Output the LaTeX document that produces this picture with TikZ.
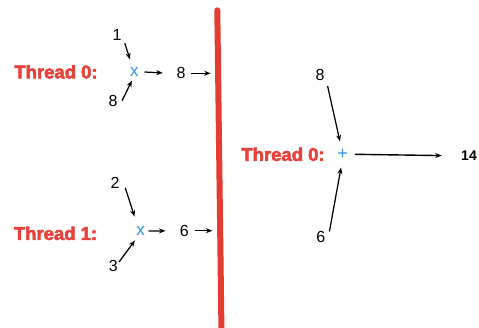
\documentclass[tikz,border=0pt]{standalone}
\usepackage{fontspec}
\setmainfont{Liberation Sans}
\usetikzlibrary{arrows.meta}
\definecolor{tred}{RGB}{232,65,58}
\definecolor{wallred}{RGB}{228,60,48}
\definecolor{opblue}{RGB}{47,144,240}
\newcommand\heavytext[1]{\special{pdf:literal direct 2 Tr 0.5 w}#1\special{pdf:literal direct 0 Tr}}
\tikzset{
  arr/.style={-{Stealth[length=6.5pt,width=5pt]}, line width=1.25pt, black},
  num/.style={circle, inner sep=0pt, minimum size=20pt, font=\fontsize{16}{16}\selectfont},
  op/.style={circle, inner sep=0pt, minimum size=20pt, text=opblue, font=\fontsize{17}{17}\selectfont},
  lbl/.style={inner sep=0pt, text=tred, font=\fontsize{18.5}{18.5}\selectfont\bfseries},
  wall/.style={wallred, line width=6pt, line cap=round},
}
\begin{document}
\begin{tikzpicture}[x=1pt,y=-1pt]
\useasboundingbox (0,0) rectangle (479,327);

% wall
\coordinate (wtop) at (217.3,10.3);
\coordinate (wbot) at (221.5,334);
\draw[wall] (wtop) -- (wbot);
\coordinate (w0) at (210.7,73.3);
\coordinate (w1) at (212.3,230.7);

% labels
\node[lbl] (t0) at (56,71.8) {\heavytext{Thread 0:}};
\node[lbl] (t1) at (55.5,233.3) {\heavytext{Thread 1:}};
\node[lbl] (t2) at (283,154.3) {\heavytext{Thread 0:}};

% thread 0
\node[num] (n1) at (117,35.3) {1};
\node[num] (n8a) at (113,101) {8};
\node[op] (x0) at (134.3,72) {x};
\node[num] (r8) at (181,73.3) {8};
\draw[arr, shorten <=1pt, shorten >=3.1pt] (n1.-43) -- (x0.109);
\draw[arr, shorten <=-2pt, shorten >=-1.3pt] (n8a.12) -- (x0.-107);
\draw[arr, shorten >=8pt] (x0.0) -- (r8.180);
\draw[arr] (r8.0) -- (w0);

% thread 1
\node[num] (n2) at (115,183.3) {2};
\node[num] (n3) at (113.3,266) {3};
\node[op] (x1) at (140.7,231) {x};
\node[num] (r6) at (184.3,230.7) {6};
\draw[arr, shorten <=1.5pt, shorten >=5.5pt] (n2.-17) -- (x1.116);
\draw[arr, shorten <=-3.4pt, shorten >=0.9pt] (n3.41) -- (x1.-121);
\draw[arr, shorten <=-2.4pt, shorten >=8.6pt] (x1.0) -- (r6.180);
\draw[arr] (r6.0) -- (w1);

% right side
\node[num] (m8) at (320,75) {8};
\node[num] (m6) at (320.7,236.7) {6};
\node[op, minimum size=24pt, font=\fontsize{18}{18}\selectfont] (plus) at (342.7,154.3) {+};
\node[inner sep=0pt, minimum size=20pt, circle, font=\fontsize{14}{14}\selectfont\bfseries] (r14) at (469,156) {14};
\draw[arr, shorten <=3.5pt, shorten >=1pt] (m8.-48) -- (plus.102);
\draw[arr, shorten <=0pt, shorten >=1.1pt] (m6.31) -- (plus.-97);
\draw[arr, line width=1.4pt, shorten >=27.3pt] (plus.0) -- (r14.center);
\end{tikzpicture}
\end{document}
